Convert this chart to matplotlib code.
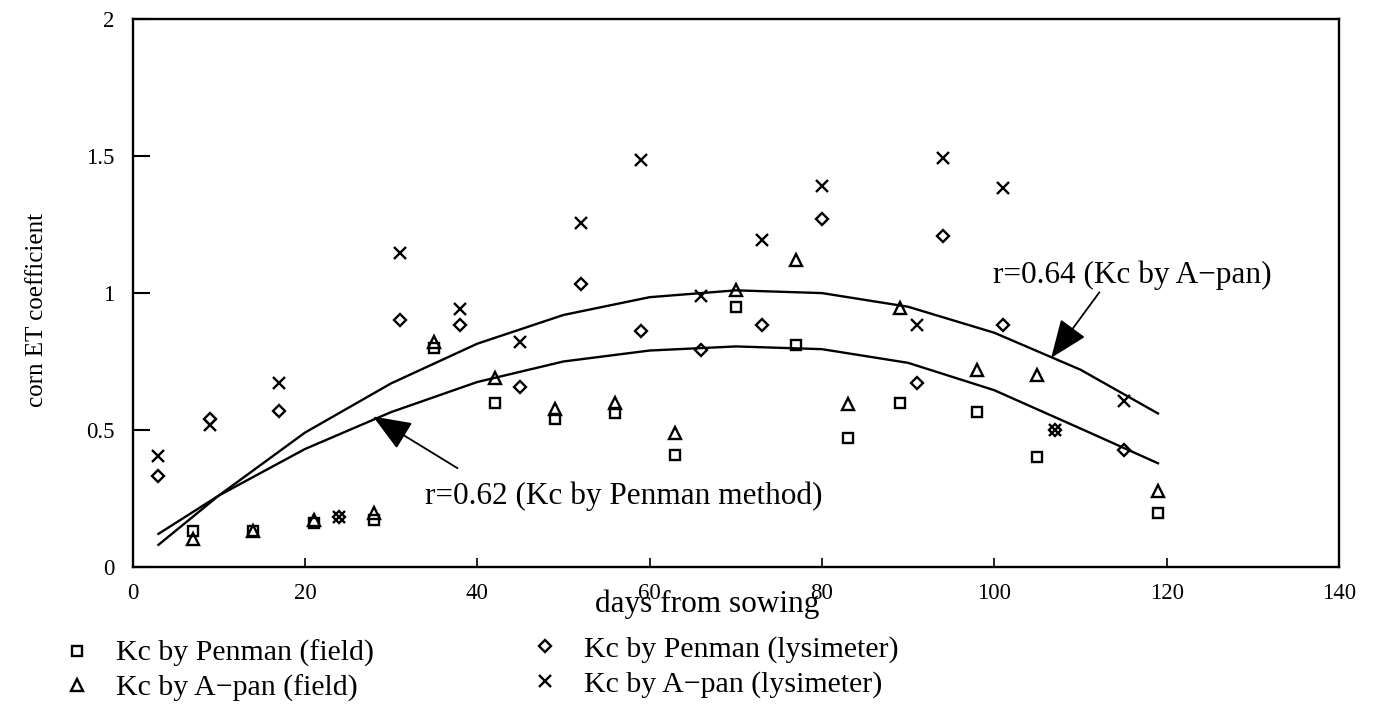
import matplotlib
matplotlib.use('Agg')
import matplotlib.pyplot as plt

plt.rcParams['font.family'] = ['Liberation Serif', 'DejaVu Serif']

# dias desde la siembra y coeficientes
dias_campo = [7, 14, 21, 28, 35, 42, 49, 56, 63, 70, 77, 83, 89, 98, 105, 119]
kc_penman_campo = [0.13, 0.13, 0.16, 0.17, 0.80, 0.60, 0.54, 0.56, 0.41, 0.95, 0.81, 0.47, 0.60, 0.565, 0.40, 0.195]
kc_apan_campo = [0.10, 0.13, 0.17, 0.195, 0.82, 0.69, 0.575, 0.60, 0.49, 1.01, 1.12, 0.595, 0.945, 0.72, 0.70, 0.275]

dias_lis = [3, 9, 17, 24, 31, 38, 45, 52, 59, 66, 73, 80, 91, 94, 101, 107, 115]
kc_penman_lis = [0.33, 0.54, 0.57, 0.18, 0.90, 0.885, 0.655, 1.033, 0.862, 0.793, 0.882, 1.27, 0.671, 1.207, 0.882, 0.50, 0.427]
kc_apan_lis = [0.405, 0.518, 0.673, 0.18, 1.147, 0.942, 0.821, 1.256, 1.488, 0.99, 1.195, 1.393, 0.882, 1.494, 1.385, 0.50, 0.604]

# curvas de ajuste
dias_curva = [3, 10, 20, 30, 40, 50, 60, 70, 80, 90, 100, 110, 119]
curva_apan = [0.08, 0.26, 0.49, 0.67, 0.815, 0.92, 0.985, 1.01, 1.0, 0.95, 0.855, 0.72, 0.56]
curva_penman = [0.12, 0.26, 0.43, 0.565, 0.675, 0.75, 0.79, 0.805, 0.795, 0.745, 0.645, 0.505, 0.378]

fig = plt.figure(figsize=(13.73, 7.08), dpi=100)
ax = fig.add_axes([0.0966, 0.1996, 0.8786, 0.7729])

ms_kw = dict(linestyle='none', color='black', markerfacecolor='none', markeredgewidth=1.7)
h1, = ax.plot(dias_campo, kc_penman_campo, marker='s', markersize=7.2, label='Kc by Penman (field)', **ms_kw)
h2, = ax.plot(dias_campo, kc_apan_campo, marker='^', markersize=8.5, label='Kc by A\u2212pan (field)', **ms_kw)
h3, = ax.plot(dias_lis, kc_penman_lis, marker='D', markersize=6.6, label='Kc by Penman (lysimeter)', **ms_kw)
h4, = ax.plot(dias_lis, kc_apan_lis, marker='x', markersize=8, label='Kc by A\u2212pan (lysimeter)', **ms_kw)

ax.plot(dias_curva, curva_apan, color='black', lw=1.7)
ax.plot(dias_curva, curva_penman, color='black', lw=1.7)

ax.set_xlim(0, 140)
ax.set_ylim(0, 2)
ax.set_xticks(range(0, 141, 20))
ax.set_yticks([0, 0.5, 1, 1.5, 2])
ax.set_yticklabels(['0', '0.5', '1', '1.5', '2'])
ax.tick_params(axis='y', direction='in', length=12, width=1.5, pad=13, labelsize=16.5)
ax.tick_params(axis='x', direction='in', length=6.5, width=1.2, pad=12, labelsize=16.5)
for s in ax.spines.values():
    s.set_linewidth(1.7)

ax.set_xlabel('days from sowing', fontsize=22.5)
ax.xaxis.set_label_coords(0.476, -0.068)
ax.xaxis.label.set_va('center')
ax.set_ylabel('corn ET coefficient', fontsize=18)
ax.yaxis.set_label_coords(-0.0792, 0.469)
ax.yaxis.label.set_va('center')

# anotaciones de las curvas
ax.text(99.8, 1.064, 'r=0.64 (Kc by A\u2212pan)', fontsize=22.5, ha='left', va='center')
ax.annotate('', xy=(106.6, 0.763), xytext=(112.2, 1.003),
            arrowprops=dict(arrowstyle='-|>,head_length=1.0,head_width=0.4', color='black',
                            lw=1.3, mutation_scale=24, shrinkA=0, shrinkB=0))
ax.text(33.9, 0.259, 'r=0.62 (Kc by Penman method)', fontsize=22.5, ha='left', va='center')
ax.annotate('', xy=(27.9, 0.549), xytext=(37.7, 0.36),
            arrowprops=dict(arrowstyle='-|>,head_length=1.0,head_width=0.4', color='black',
                            lw=1.3, mutation_scale=24, shrinkA=0, shrinkB=0))

leg_kw = dict(frameon=False, fontsize=21.5, handlelength=1.0, handletextpad=0.8,
              labelspacing=0.24, borderpad=0, borderaxespad=0, loc='upper left')
fig.legend(handles=[h1, h2], bbox_to_anchor=(62 / 1373, 1 - 640 / 708), **leg_kw)
fig.legend(handles=[h3, h4], bbox_to_anchor=(530 / 1373, 1 - 636 / 708), **leg_kw)

fig.savefig('out.png', dpi=100)
